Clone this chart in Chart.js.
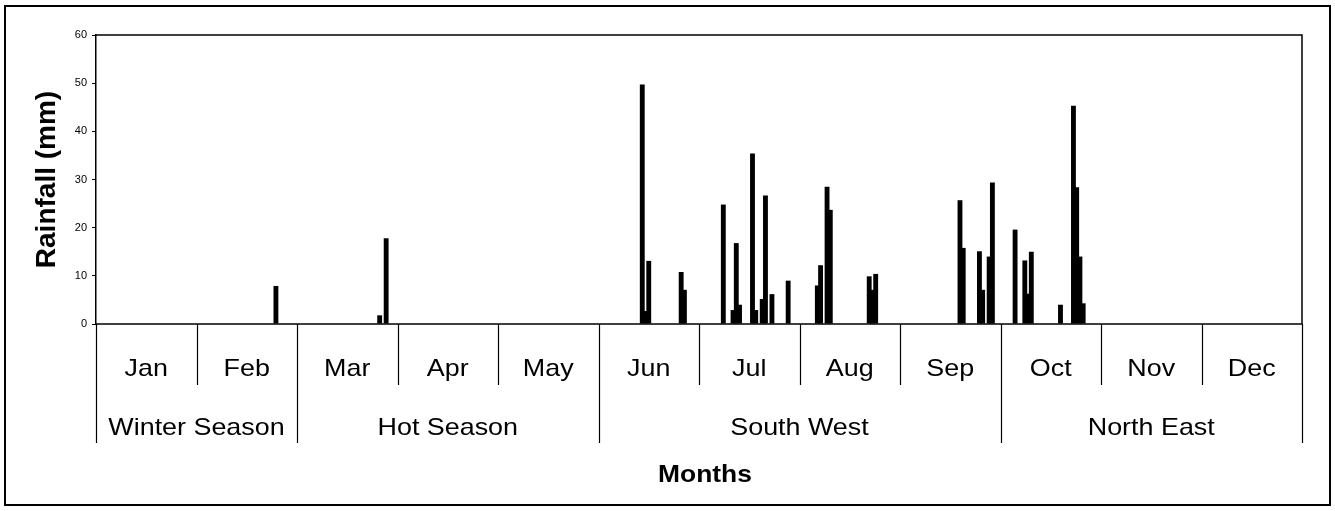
<!DOCTYPE html>
<html><head><meta charset="utf-8">
<script src="https://cdn.jsdelivr.net/npm/chart.js@4/dist/chart.umd.min.js"></script>
<style>html,body{margin:0;padding:0;background:#fff;}#wrap{width:1335px;height:511px;}</style>
</head><body><div id="wrap"><canvas id="c" width="1335" height="511"></canvas></div>
<script>
// ---- data ----
const months = ['Jan','Feb','Mar','Apr','May','Jun','Jul','Aug','Sep','Oct','Nov','Dec'];
const seasonNames = ['Winter Season','Hot Season','South West','North East'];
const seasonMonthCounts = [2,3,4,3];
const slotsPerMonth = 31;
const rainMonth = [2, 3,3, 6,6,6,6,6, 7,7,7,7,7,7,7,7,7,7, 8,8,8,8,8,8,8, 9,9,9,9,9,9, 10,10,10,10,10,10,10,10,10];
const rainDay   = [25, 26,28, 14,15,16,26,27, 8,11,12,13,17,18,20,21,23,28, 6,7,9,10,22,23,24, 19,20,25,26,28,29, 5,8,9,10,19,23,24,25,26];
const rainMm    = [7.9, 1.8,17.8, 49.7,2.7,13.1,10.8,7.1, 24.8,2.9,16.8,4.0,35.4,2.9,5.2,26.7,6.2,9.0, 8.0,12.2,28.5,23.7,9.9,7.1,10.4, 25.7,15.8,15.1,7.1,14.0,29.4, 19.6,13.2,6.3,15.0,4.0,45.3,28.4,14.0,4.3];
const yTicks = [0,10,20,30,40,50,60];
const yTitle = 'Rainfall (mm)';
const xTitle = 'Months';

// ---- build category table ----
const labels = [];
const values = [];
months.forEach((m) => { for (let d = 1; d <= slotsPerMonth; d++) { labels.push(m + ' ' + d); values.push(0); } });
rainMm.forEach((v, i) => { values[(rainMonth[i]-1)*slotsPerMonth + (rainDay[i]-1)] = v; });

const FONT = "'Liberation Sans', Arial, sans-serif";

function sText(ctx, t, x, y, sx) {
  ctx.save(); ctx.translate(x, y); ctx.scale(sx, 1); ctx.fillText(t, 0, 0); ctx.restore();
}

const tablePlugin = {
  id: 'tablePlugin',
  afterDraw(chart) {
    const ctx = chart.ctx;
    const a = chart.chartArea;
    ctx.save();
    ctx.strokeStyle = '#000';
    ctx.lineWidth = 1.5;
    ctx.beginPath();
    ctx.moveTo(a.left, a.top); ctx.lineTo(a.right, a.top); ctx.lineTo(a.right, a.bottom); ctx.lineTo(a.left, a.bottom);
    ctx.stroke();
    ctx.lineWidth = 2;
    ctx.strokeRect(5, 6, 1325, 499);
    const mw = (a.right - a.left) / months.length;
    const seasonEdges = [0];
    seasonMonthCounts.forEach(c => seasonEdges.push(seasonEdges[seasonEdges.length-1] + c));
    ctx.lineWidth = 1.2;
    for (let k = 0; k <= months.length; k++) {
      const x = Math.round(a.left + k*mw) + 0.5;
      const isSeason = seasonEdges.includes(k);
      ctx.beginPath(); ctx.moveTo(x, a.bottom); ctx.lineTo(x, isSeason ? 443 : 385); ctx.stroke();
    }
    ctx.fillStyle = '#000';
    ctx.textAlign = 'center'; ctx.textBaseline = 'middle';
    ctx.font = '24px ' + FONT;
    months.forEach((m, k) => sText(ctx, m, a.left + (k+0.5)*mw, 369, 1.12));
    seasonNames.forEach((s, i) => {
      const c = (seasonEdges[i] + seasonEdges[i+1]) / 2;
      sText(ctx, s, a.left + c*mw, 428, 1.12);
    });
    ctx.font = 'bold 24px ' + FONT;
    sText(ctx, xTitle, 705, 475, 1.1);
    ctx.restore();
  }
};

new Chart(document.getElementById('c'), {
  type: 'bar',
  data: { labels, datasets: [{ data: values, backgroundColor: '#000', borderWidth: 0, barPercentage: 1.5, categoryPercentage: 1 }] },
  options: {
    responsive: false, animation: false, devicePixelRatio: 1,
    layout: { padding: { left: 30, top: 35, right: 33, bottom: 187 } },
    plugins: { legend: { display: false }, tooltip: { enabled: false } },
    scales: {
      x: { type: 'category', display: false, offset: true },
      y: {
        min: 0, max: 60,
        afterFit(scale) { scale.width = 66; },
        afterBuildTicks(scale) { scale.ticks = yTicks.map(v => ({ value: v })); },
        ticks: { font: { family: FONT, size: 11 }, color: '#000', padding: 5 },
        grid: { drawOnChartArea: false, drawTicks: true, tickLength: 4, color: '#000', lineWidth: 1 },
        border: { display: true, color: '#000', width: 1.5 },
        title: { display: true, text: yTitle, color: '#000', font: { family: FONT, size: 28, weight: 'bold' }, padding: { top: 0, bottom: 0 } }
      }
    }
  },
  plugins: [tablePlugin]
});
</script></body></html>
